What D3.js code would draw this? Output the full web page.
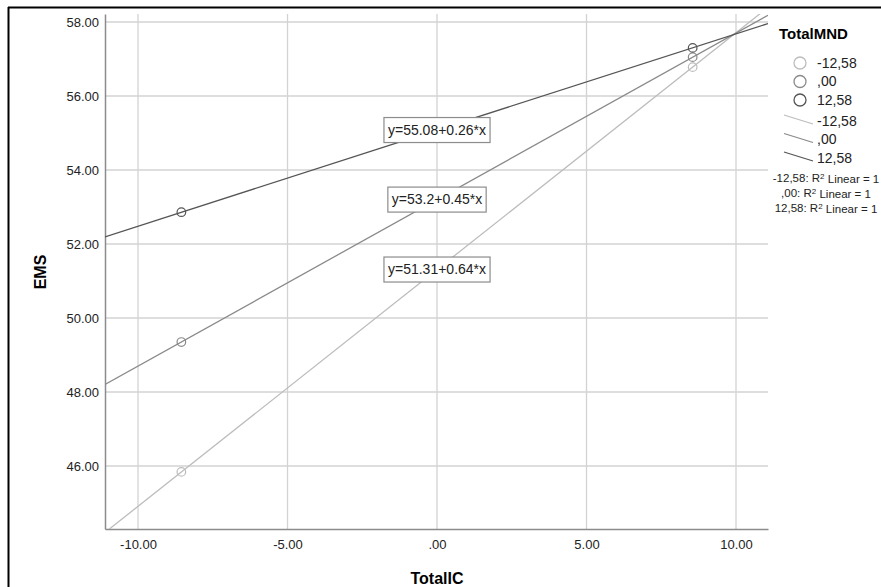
<!DOCTYPE html>
<html>
<head>
<meta charset="utf-8">
<script src="https://cdn.jsdelivr.net/npm/d3@7"></script>
<style>
  body { margin: 0; background: #fff; }
  text { font-family: "Liberation Sans", Arial, sans-serif; }
</style>
</head>
<body>
<div id="chart"></div>
<script>
// data
var groups = ["-12,58", ",00", "12,58"];
var intercepts = [51.31, 53.2, 55.08];
var slopes = [0.64, 0.45, 0.26];
var pointX = [-8.55, 8.55];
var pointsLow = [45.84, 56.78];
var pointsMid = [49.35, 57.05];
var pointsHigh = [52.86, 57.30];
var xTicks = [-10, -5, 0, 5, 10];
var yTicks = [46, 48, 50, 52, 54, 56, 58];
var colors = ["#bdbdbd", "#8a8a8a", "#555555"];

var W = 881, H = 587;
var margin = {top: 14, right: 113, bottom: 58, left: 105};
var width = W - margin.left - margin.right,
    height = H - margin.top - margin.bottom;

var svg = d3.select("#chart").append("svg")
    .attr("width", W)
    .attr("height", H);

// outer frame (only top/left show in the picture)
svg.append("line").attr("x1", 8).attr("x2", W).attr("y1", 7.5).attr("y2", 7.5)
  .attr("stroke", "#000").attr("stroke-width", 2);
svg.append("line").attr("x1", 8.5).attr("x2", 8.5).attr("y1", 7).attr("y2", H)
  .attr("stroke", "#000").attr("stroke-width", 2);

var g = svg.append("g")
  .attr("transform", "translate(" + margin.left + "," + margin.top + ")");

var x = d3.scaleLinear().domain([-11.104, 11.07]).range([0, width]);
var y = d3.scaleLinear().domain([44.297, 58.216]).range([height, 0]);

// gridlines
g.append("g").selectAll("line").data(xTicks).enter().append("line")
  .attr("x1", d => x(d)).attr("x2", d => x(d))
  .attr("y1", 0).attr("y2", height)
  .attr("stroke", "#d3d3d3").attr("stroke-width", 1.3);
g.append("g").selectAll("line").data(yTicks).enter().append("line")
  .attr("x1", 0).attr("x2", width)
  .attr("y1", d => y(d)).attr("y2", d => y(d))
  .attr("stroke", "#d3d3d3").attr("stroke-width", 1.3);

// axes (SPSS style: plain hyphen, ".00" for zero)
var fmt = function(d) {
  var s = d3.format(".2f")(Math.abs(d));
  if (d === 0) s = ".00";
  return (d < 0 ? "-" : "") + s;
};
var xAxis = g.append("g")
  .attr("transform", "translate(0," + height + ")")
  .call(d3.axisBottom(x).tickValues(xTicks).tickSize(0).tickPadding(11).tickFormat(fmt));
var yAxis = g.append("g")
  .call(d3.axisLeft(y).tickValues(yTicks).tickSize(0).tickPadding(6).tickFormat(fmt));
[xAxis, yAxis].forEach(function(a) {
  a.select(".domain").attr("stroke", "#8c8c8c").attr("stroke-width", 1.5);
  a.selectAll("text").attr("font-size", 13).attr("fill", "#222")
    .style("font-family", "'Liberation Sans', Arial, sans-serif");
});

// fit lines, clipped to plot
g.append("clipPath").attr("id", "clip").append("rect")
  .attr("width", width).attr("height", height);
var plot = g.append("g").attr("clip-path", "url(#clip)");
var xd = x.domain();
groups.forEach(function(grp, i) {
  var pts = xd.map(function(v) { return {x: v, y: intercepts[i] + slopes[i] * v}; });
  plot.append("path")
    .datum(pts)
    .attr("fill", "none")
    .attr("stroke", colors[i])
    .attr("stroke-width", 1.3)
    .attr("d", d3.line().x(d => x(d.x)).y(d => y(d.y)));
});

// points
var pointSets = [pointsLow, pointsMid, pointsHigh];
pointSets.forEach(function(vals, i) {
  g.append("g").selectAll("circle").data(vals).enter().append("circle")
    .attr("cx", (d, j) => x(pointX[j]))
    .attr("cy", d => y(d))
    .attr("r", 4.3)
    .attr("fill", "none")
    .attr("stroke", colors[i])
    .attr("stroke-width", 1.2);
});

// equation labels at x = 0
groups.forEach(function(grp, i) {
  var lg = g.append("g")
    .attr("transform", "translate(" + x(0) + "," + y(intercepts[i]) + ")");
  var t = lg.append("text")
    .attr("text-anchor", "middle")
    .attr("dy", "0.35em")
    .attr("font-size", 14)
    .attr("fill", "#222")
    .text("y=" + intercepts[i] + "+" + slopes[i] + "*x");
  var bb = t.node().getBBox();
  lg.insert("rect", "text")
    .attr("x", bb.x - 4).attr("y", -12.5)
    .attr("width", bb.width + 8).attr("height", 25)
    .attr("fill", "#fff")
    .attr("stroke", "#8c8c8c")
    .attr("stroke-width", 1.2);
});

// axis titles
svg.append("text")
  .attr("x", x(0) + margin.left).attr("y", 584)
  .attr("text-anchor", "middle")
  .attr("font-size", 16).attr("font-weight", "bold")
  .text("TotalIC");
svg.append("text")
  .attr("transform", "translate(46,272) rotate(-90)")
  .attr("text-anchor", "middle")
  .attr("font-size", 16).attr("font-weight", "bold")
  .text("EMS");

// legend
var leg = svg.append("g");
leg.append("text").attr("x", 779).attr("y", 39)
  .attr("font-size", 15).attr("font-weight", "bold").text("TotalMND");
groups.forEach(function(grp, i) {
  var cy = 63 + i * 18.5;
  leg.append("circle").attr("cx", 800).attr("cy", cy).attr("r", 6)
    .attr("fill", "none").attr("stroke", colors[i]).attr("stroke-width", 1.3);
  leg.append("text").attr("x", 817).attr("y", cy).attr("dy", "0.35em")
    .attr("font-size", 14).attr("fill", "#222").text(grp);
});
groups.forEach(function(grp, i) {
  var ly = 119 + i * 18.5;
  leg.append("line").attr("x1", 784).attr("x2", 813)
    .attr("y1", ly - 4).attr("y2", ly + 5)
    .attr("stroke", colors[i]).attr("stroke-width", 1.3);
  leg.append("text").attr("x", 817).attr("y", ly + 2).attr("dy", "0.35em")
    .attr("font-size", 14).attr("fill", "#222").text(grp);
});
groups.forEach(function(grp, i) {
  var t = leg.append("text").attr("x", 826).attr("y", 178 + i * 15).attr("dy", "0.35em")
    .attr("text-anchor", "middle").attr("font-size", 11.5).attr("fill", "#222");
  t.append("tspan").text(grp + ": R");
  t.append("tspan").attr("font-size", 8).attr("dy", "-0.35em").text("2");
  t.append("tspan").attr("dy", "0.35em").text(" Linear = 1");
});
</script>
</body>
</html>
